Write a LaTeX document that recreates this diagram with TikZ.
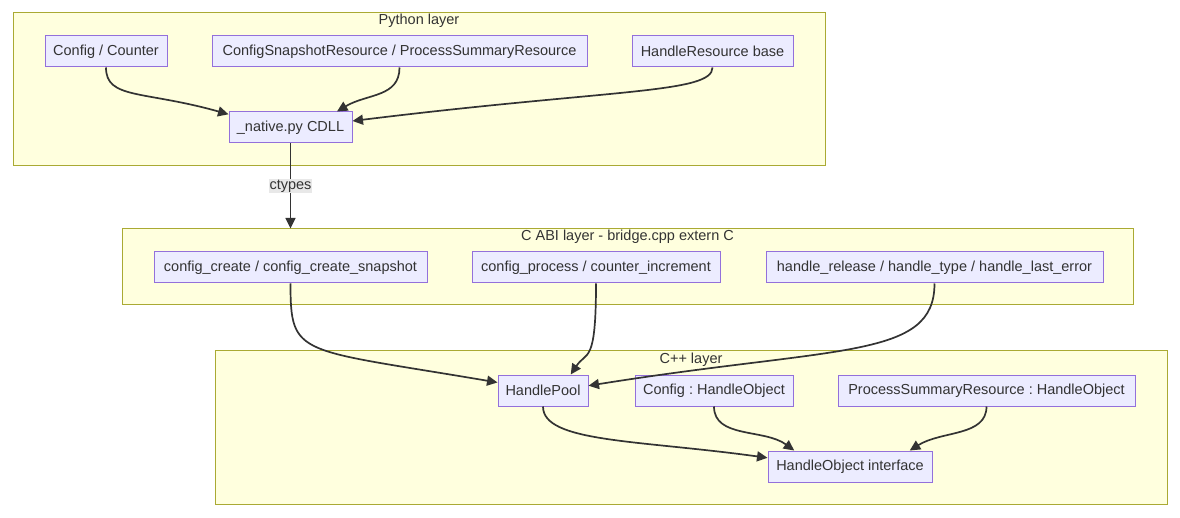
\documentclass[tikz,border=0pt]{standalone}
\usepackage{fontspec}
\setmainfont{Liberation Sans}
\usepackage{tikz}
\usetikzlibrary{arrows.meta}
\definecolor{layerfill}{HTML}{FFFFDE}
\definecolor{layerdraw}{HTML}{AAAA33}
\definecolor{boxfill}{HTML}{ECECFF}
\definecolor{boxdraw}{HTML}{9370DB}
\definecolor{inkdark}{HTML}{333333}
\definecolor{lblfill}{HTML}{E8E8E8}
\frenchspacing

\begin{document}
\begin{tikzpicture}[
  x=1pt, y=-1pt,
  every node/.style={font=\fontsize{14.5}{17}\selectfont\color{inkdark}},
  layer/.style={draw=layerdraw, fill=layerfill, line width=1pt, minimum height=#1, inner sep=0pt},
  layertitle/.style={inner sep=0pt, anchor=center},
  box/.style={draw=boxdraw, fill=boxfill, line width=1pt, minimum height=31, minimum width=#1, inner sep=0pt},
  flow/.style={draw=inkdark, line width=1.7pt, -{Triangle[length=10.5pt,width=10pt]}},
  flowlabel/.style={fill=lblfill, inner sep=1pt},
]
\useasboundingbox (0,0) rectangle (1180,518);

% Layers
\node[layer=153, minimum width=812] (py) at (419,89.5) {};
\node[layer=76, minimum width=1011] (abi) at (627.5,267) {};
\node[layer=153, minimum width=952] (cpp) at (691,427.5) {};
\node[layertitle] (pyt) at (419,21) {Python layer};
\node[layertitle] (abit) at (627.5,237) {C ABI layer - bridge.cpp extern C};
\node[layertitle] (cppt) at (691,360) {C++ layer};

% Python layer
\node[box=122] (cfgcnt) at (106,51.5) {Config / Counter};
\node[box=375] (snapres) at (399.5,51.5) {ConfigSnapshotResource / ProcessSummaryResource};
\node[box=161] (hres) at (712.5,51.5) {HandleResource base};
\node[box=123] (native) at (290.5,127.5) {\_native.py CDLL};

% C ABI layer
\node[box=273] (cfgcreate) at (290.5,267.5) {config\_create / config\_create\_snapshot};
\node[box=248] (cfgproc) at (596,267.5) {config\_process / counter\_increment};
\node[box=337] (hrel) at (934.5,267.5) {handle\_release / handle\_type / handle\_last\_error};

% C++ layer
\node[box=90] (hpool) at (543,390.5) {HandlePool};
\node[box=158] (cfgobj) at (714,390.5) {Config : HandleObject};
\node[box=297] (psrobj) at (986.5,390.5) {ProcessSummaryResource : HandleObject};
\node[box=164] (hobj) at (850,466.5) {HandleObject interface};

% Edges
\draw[flow] (cfgcnt.south) .. controls +(0,32) and +(-85,-24) .. (native.168);
\draw[flow] (snapres.south) .. controls +(0,30) and +(30,-18) .. (native.19);
\draw[flow] (hres.south) .. controls +(0,26) and +(260,-32) .. (native.6);
\draw[flow] (native.south) -- node[flowlabel] {ctypes} (abi.north -| native.south);
\draw[flow] (cfgcreate.south) .. controls +(0,74) and +(-200,-34) .. (hpool.170);
\draw[flow] (cfgproc.south) .. controls +(0,82) and +(16,-24) .. (hpool.30);
\draw[flow] (hrel.south) .. controls +(0,76) and +(250,-40) .. (hpool.6);
\draw[flow] (hpool.south) .. controls +(0,36) and +(-130,-18) .. (hobj.174);
\draw[flow] (cfgobj.south) .. controls +(0,32) and +(-30,-22) .. (hobj.164);
\draw[flow] (psrobj.south) .. controls +(0,30) and +(32,-20) .. (hobj.15);
\end{tikzpicture}
\end{document}
